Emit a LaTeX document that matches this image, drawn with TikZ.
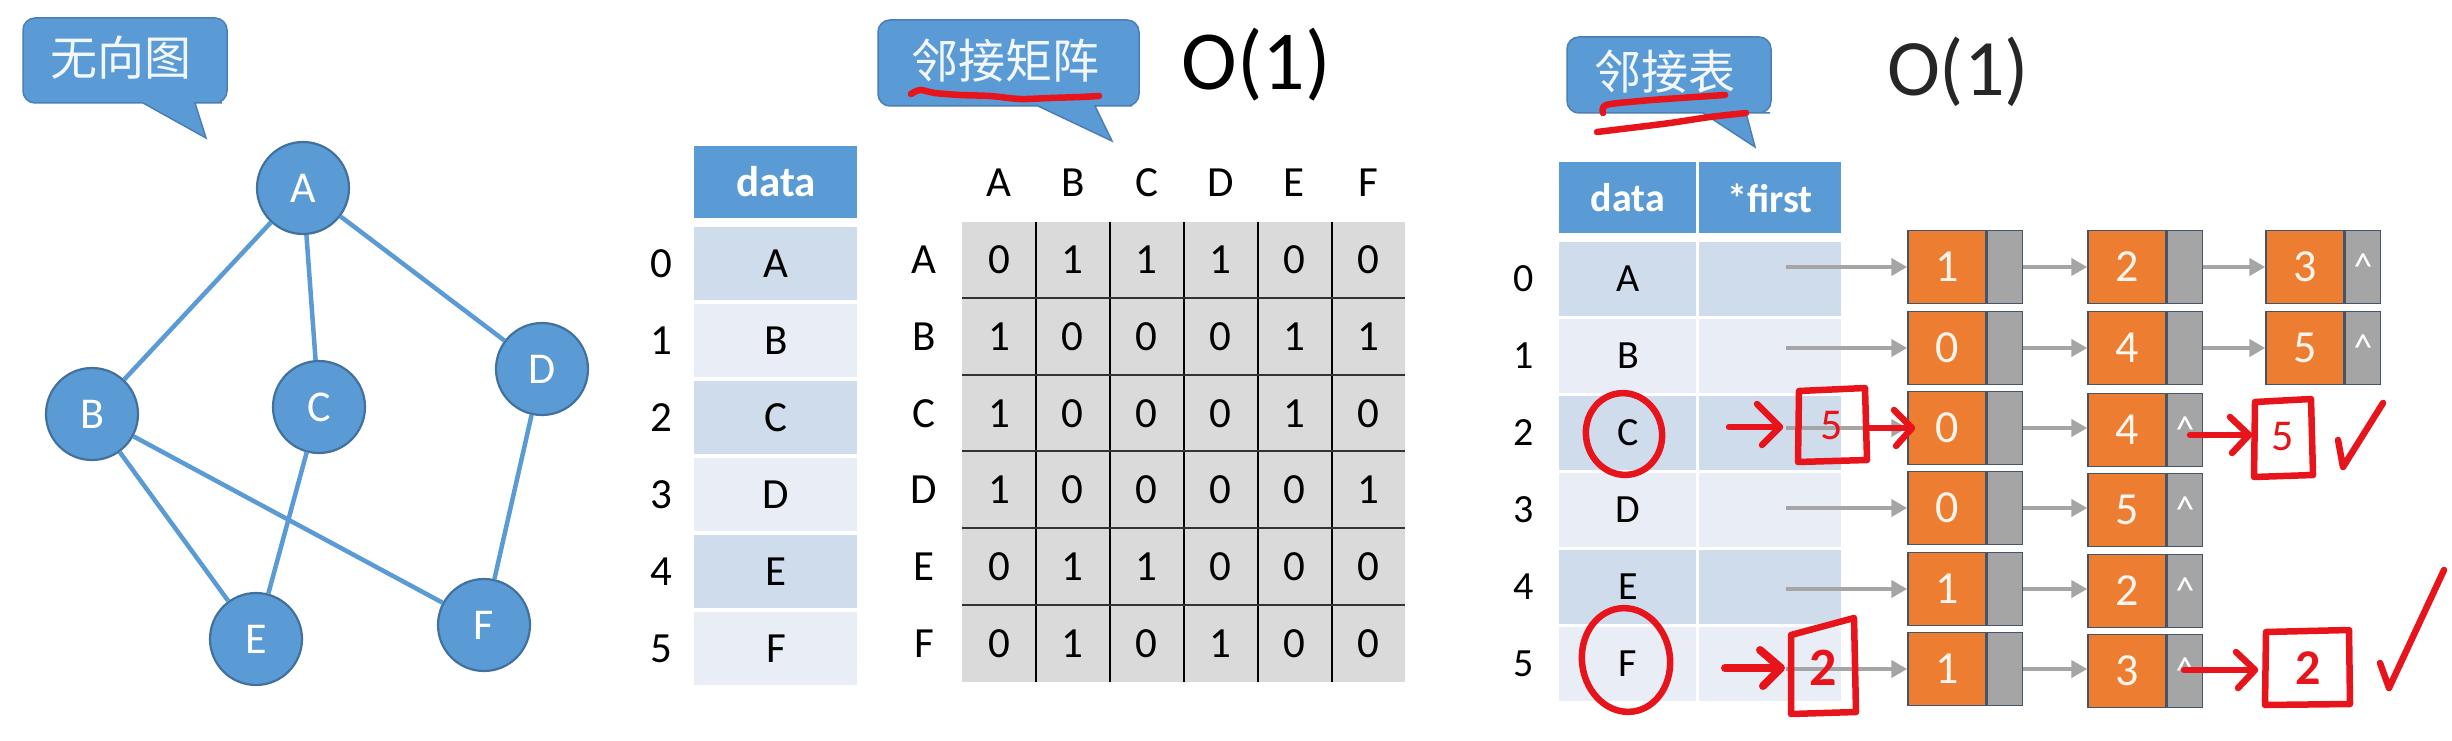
\documentclass[tikz,border=0pt]{standalone}
\usepackage{fontspec}
\setmainfont{Carlito}
\newfontfamily\cjk{Noto Sans CJK SC}
\usetikzlibrary{shapes.geometric,arrows.meta}
\definecolor{blu}{HTML}{5B9BD5}
\definecolor{bluedge}{HTML}{41719C}
\definecolor{calloutedge}{HTML}{4A7EB5}
\definecolor{rowA}{HTML}{CFDCEC}
\definecolor{rowB}{HTML}{E9EDF6}
\definecolor{mgray}{HTML}{DADADA}
\definecolor{ora}{HTML}{ED7D31}
\definecolor{gpart}{HTML}{A5A5A5}
\definecolor{nodeedge}{HTML}{44546A}
\definecolor{garr}{HTML}{A5A5A5}
\definecolor{penred}{HTML}{E8141B}
\begin{document}
\begin{tikzpicture}[x=1pt,y=-1pt,
  gnode/.style={circle, fill=blu, draw=bluedge, line width=2.2, minimum size=92, inner sep=0, text=white, font=\fontsize{44}{44}\selectfont},
  gedge/.style={draw=blu, line width=4.5},
  callout/.style={fill=blu, draw=calloutedge, line width=1.5},
  ctext/.style={text=white!92!blu, inner sep=0, font=\cjk\fontsize{47}{47}\selectfont},
  tt/.style={inner sep=0, font=\fontsize{43}{43}\selectfont},
  tr/.style={inner sep=0, font=\fontsize{40}{40}\selectfont},
  hdr/.style={inner sep=0, text=white, font=\bfseries\fontsize{43}{43}\selectfont},
  hdrr/.style={inner sep=0, text=white, font=\bfseries\fontsize{40}{40}\selectfont},
  lnum/.style={rectangle, fill=ora, draw=nodeedge, line width=1.5, minimum width=78, minimum height=73, inner sep=0, text=white!92!ora, font=\fontsize{46}{46}\selectfont},
  lptr/.style={rectangle, fill=gpart, draw=nodeedge, line width=1.5, minimum width=35, minimum height=73, inner sep=0, text=white, font=\fontsize{38}{38}\selectfont},
  garrow/.style={draw=garr, line width=4.5, -{Triangle[length=16pt,width=17pt]}},
  pen/.style={draw=penred, line width=6.5, line cap=round, line join=round},
  pentext/.style={text=penred, inner sep=0, font=\bfseries\fontsize{46}{46}\selectfont},
  big/.style={inner sep=0, font=\fontsize{84}{84}\selectfont}
  ]
\useasboundingbox (0,0) rectangle (2452,741);
\fill[white] (0,0) rectangle (2452,741);

% ---------- callout 1 ----------
\filldraw[callout] (120,18) [rounded corners=12] -- (227,18) -- (227,103) -- (210,103) [sharp corners] -- (195,103) -- (206,138) -- (143,103) -- (130,103) [rounded corners=12] -- (23,103) -- (23,18) -- cycle;
\node[ctext] (c1) at (121,58) {无向图};

% ---------- graph ----------
\node[gnode] (A) at (303,188) {A};
\node[gnode] (B) at (92,414) {B};
\node[gnode] (C) at (319,407) {C};
\node[gnode] (D) at (542,369) {D};
\node[gnode] (E) at (256,639) {E};
\node[gnode] (F) at (484,625) {F};
\path[gedge] (A) -- (B) (A) -- (C) (A) -- (D) (B) -- (E) (B) -- (F) (C) -- (E) (D) -- (F);

% ---------- callout 2 ----------
\filldraw[callout] (1000,20) [rounded corners=12] -- (1139,20) -- (1139,106) -- (1120,106) [sharp corners] -- (1095,106) -- (1112,141) -- (1038,106) -- (1020,106) [rounded corners=12] -- (878,106) -- (878,20) -- cycle;
\node[ctext] (c2) at (1005,61) {邻接矩阵};
\draw[pen] plot[smooth] coordinates {(911,94) (920,90) (935,93) (960,95) (990,96) (1020,99) (1050,98) (1080,97) (1099,96)};
\node[big] (o1) at (1256,65) {O(1)};

% ---------- middle data table ----------
\fill[blu] (694,146) rectangle (857,218);
\node[hdr] (mh) at (776,182) {data};
\foreach \l/\c [count=\i from 0] in {A/rowA,B/rowB,C/rowA,D/rowB,E/rowA,F/rowB}{
  \fill[\c] (694,{227+77*\i}) rectangle (857,{300+77*\i});
  \node[tt] (md\i) at (776,{264+77*\i}) {\l};
  \node[tt] (mi\i) at (661,{264+77*\i}) {\i};
}

% ---------- matrix ----------
\fill[mgray] (962,222) rectangle (1405,682);
\foreach \x in {1036,1110,1184,1258,1332} \draw[line width=1.8] (\x,222) -- (\x,682);
\foreach \y in {298,375,451,528,605} \draw[line width=2.6,black!80] (962,\y) -- (1405,\y);
\foreach \l [count=\j from 0] in {A,B,C,D,E,F}{
  \node[tt] (ch\j) at ({999+73.8*\j},183) {\l};
  \node[tt] (rh\j) at (924,{260+76.7*\j}) {\l};
}
\foreach \vals [count=\i from 0] in {{0,1,1,1,0,0},{1,0,0,0,1,1},{1,0,0,0,1,0},{1,0,0,0,0,1},{0,1,1,0,0,0},{0,1,0,1,0,0}}{
  \foreach \v [count=\j from 0] in \vals {
    \node[tt] (m\i\j) at ({999+73.8*\j},{260+76.7*\i}) {\v};
  }
}

% ---------- callout 3 ----------
\filldraw[callout] (1670,37) [rounded corners=12] -- (1771,37) -- (1771,113) -- (1758,113) [sharp corners] -- (1746,113) -- (1755,147) -- (1703,113) -- (1690,113) [rounded corners=12] -- (1567,113) -- (1567,37) -- cycle;
\node[ctext] (c3) at (1665,72) {邻接表};
\draw[pen] plot[smooth] coordinates {(1603,113) (1606,105) (1640,101) (1680,98) (1725,95)};
\draw[pen] plot[smooth] coordinates {(1597,132) (1630,128) (1670,123) (1710,117) (1746,113)};
\node[big, font=\fontsize{80}{80}\selectfont, text=black!85] (o2) at (1958,72) {O(1)};

% ---------- right table ----------
\fill[blu] (1559,162) rectangle (1841,233);
\node[hdrr] (rh1) at (1628,198) {data};
\node[hdrr] (rh2) at (1770,198) {*first};
\foreach \l/\c [count=\i from 0] in {A/rowA,B/rowB,C/rowA,D/rowB,E/rowA,F/rowB}{
  \fill[\c] (1559,{242+77*\i}) rectangle (1841,{316+77*\i});
  \node[tr] (rd\i) at (1628,{279+77*\i}) {\l};
  \node[tr] (ri\i) at (1524,{279+77*\i}) {\i};
}
\draw[white,line width=3] (1697,162) -- (1697,704);

% ---------- linked lists ----------
% row 0
\node[lnum] (n01) at (1947,267) {1}; \node[lptr,anchor=west] (p01) at (n01.east) {};
\node[lnum] (n02) at (2127,267) {2}; \node[lptr,anchor=west] (p02) at (n02.east) {};
\node[lnum] (n03) at (2305,267) {3}; \node[lptr,anchor=west] (p03) at (n03.east) {\textasciicircum};
% row 1
\node[lnum] (n11) at (1947,348) {0}; \node[lptr,anchor=west] (p11) at (n11.east) {};
\node[lnum] (n12) at (2127,348) {4}; \node[lptr,anchor=west] (p12) at (n12.east) {};
\node[lnum] (n13) at (2305,348) {5}; \node[lptr,anchor=west] (p13) at (n13.east) {\textasciicircum};
% row 2
\node[lnum] (n21) at (1947,428) {0}; \node[lptr,anchor=west] (p21) at (n21.east) {};
\node[lnum] (n22) at (2127,430) {4}; \node[lptr,anchor=west] (p22) at (n22.east) {\textasciicircum};
% row 3
\node[lnum] (n31) at (1947,508) {0}; \node[lptr,anchor=west] (p31) at (n31.east) {};
\node[lnum] (n32) at (2127,510) {5}; \node[lptr,anchor=west] (p32) at (n32.east) {\textasciicircum};
% row 4
\node[lnum] (n41) at (1947,589) {1}; \node[lptr,anchor=west] (p41) at (n41.east) {};
\node[lnum] (n42) at (2127,591) {2}; \node[lptr,anchor=west] (p42) at (n42.east) {\textasciicircum};
% row 5
\node[lnum] (n51) at (1947,669) {1}; \node[lptr,anchor=west] (p51) at (n51.east) {};
\node[lnum] (n52) at (2127,671) {3}; \node[lptr,anchor=west] (p52) at (n52.east) {\textasciicircum};

\foreach \r/\y in {0/267,1/348,2/428,3/508,4/589,5/669}{
  \coordinate (s\r) at (1786,\y);
  \draw[garrow] (s\r) -- (n\r1.west |- s\r);
  \draw[garrow] (p\r1.east |- s\r) -- (n\r2.west |- s\r);
}
\draw[garrow] (p02.east) -- (n03.west);
\draw[garrow] (p12.east) -- (n13.west);

% ---------- red annotations ----------
\draw[pen, rotate around={12:(1624,434)}] (1624,434) ellipse [x radius=38, y radius=41];
\draw[pen] (1729,427) -- (1779,427);
\draw[pen] (1757,404) -- (1780,427) -- (1762,445);
\draw[pen] (1799,391) -- (1865,388) -- (1867,460) -- (1798,462) -- cycle;
\node[pentext, font=\fontsize{44}{44}\selectfont] (f5a) at (1832,426) {5};
\draw[pen] (1867,428) -- (1910,428);
\draw[pen] (1894,410) -- (1912,428) -- (1896,446);

\draw[pen] (2190,435) -- (2247,435);
\draw[pen] (2230,417) -- (2249,435) -- (2232,453);
\draw[pen] (2255,402) -- (2311,399) -- (2313,475) -- (2254,477) -- cycle;
\node[pentext, font=\fontsize{44}{44}\selectfont] (f5b) at (2283,437) {5};
\draw[pen] (2338,440) -- (2343,467) -- (2383,403);

\draw[pen, rotate around={8:(1626,660)}] (1626,660) ellipse [x radius=44, y radius=52];
\draw[pen, line width=8] (1725,668) -- (1779,668);
\draw[pen, line width=8] (1760,650) -- (1781,668) -- (1763,686);
\draw[pen] (1791,635) -- (1854,618) -- (1856,712) -- (1791,714) -- cycle;
\node[pentext, font=\bfseries\fontsize{54}{54}\selectfont] (f2a) at (1823,668) {2};
\draw[pen] (2184,670) -- (2253,670);
\draw[pen] (2236,652) -- (2255,670) -- (2238,688);
\draw[pen] (2266,632) -- (2349,630) -- (2350,704) -- (2265,705) -- cycle;
\node[pentext, font=\bfseries\fontsize{50}{50}\selectfont] (f2b) at (2308,668) {2};
\draw[pen] (2380,663) -- (2389,688) -- (2444,570);
\end{tikzpicture}
\end{document}
